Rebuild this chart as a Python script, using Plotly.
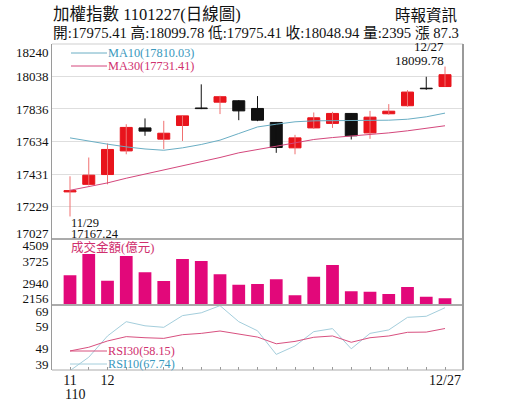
import plotly.graph_objects as go

# ---------------- data ----------------
dates = ['11/29', '11/30', '12/1', '12/2', '12/3', '12/6', '12/7', '12/8', '12/9', '12/10',
         '12/13', '12/14', '12/15', '12/16', '12/17', '12/20', '12/21', '12/22', '12/23',
         '12/24', '12/27']
opens = [17320, 17367, 17428, 17575, 17718, 17648, 17733, 17842, 17878, 17887,
         17839, 17752, 17594, 17718, 17746, 17808, 17687, 17806, 17856, 17965, 17975.41]
highs = [17417, 17534, 17621, 17741, 17777, 17762, 17795, 17989, 17918, 17890,
         17916, 17755, 17675, 17814, 17818, 17810, 17824, 17866, 17953, 18036, 18099.78]
lows = [17167.24, 17360, 17367, 17554, 17669, 17586, 17637, 17835, 17804, 17766,
        17760, 17563, 17554, 17712, 17718, 17646, 17650, 17800, 17850, 17955, 17975.41]
closes = [17328, 17424, 17584, 17721, 17698, 17685, 17793, 17838, 17912, 17824,
          17766, 17596, 17656, 17781, 17808, 17669, 17785, 17822, 17941, 17961.64, 18048.94]
volume = [3215, 3974, 3022, 3903, 3322, 3012, 3796, 3725, 3250, 2880,
          2905, 3072, 2502, 3165, 3582, 2644, 2630, 2548, 2798, 2452, 2395]
ma10 = [17656, 17635, 17617, 17600, 17587, 17579, 17594, 17615, 17642, 17683,
        17724, 17741, 17756, 17762, 17762, 17766, 17762, 17766, 17772, 17787, 17810.03]
ma30 = [17330, 17351, 17376, 17405, 17430, 17455, 17480, 17506, 17534, 17563,
        17582, 17604, 17625, 17646, 17658, 17668, 17675, 17687, 17700, 17715, 17731.41]
rsi10 = [38.7, 44.9, 54.7, 61.3, 59.4, 58.7, 64.1, 65.4, 68.7, 61.3,
         57.1, 46.2, 50.1, 56.7, 58.1, 48.8, 55.9, 57.5, 63.3, 63.8, 67.74]
rsi30 = [47.8, 49.5, 52.4, 54.4, 53.9, 53.6, 55.3, 55.9, 57.0, 55.5,
         54.2, 51.1, 52.2, 54.1, 54.7, 51.8, 53.9, 54.7, 56.4, 56.5, 58.15]

price_ticks = [18240, 18038, 17836, 17634, 17431, 17229, 17027]
vol_ticks = [4509, 3725, 2940, 2156]
rsi_ticks = [69, 59, 49, 39]
x_labels = {0: '11', 2: '12', 20: '12/27'}

title1 = '加權指數 1101227(日線圖)'
title2 = '開:17975.41 高:18099.78 低:17975.41 收:18048.94 量:2395 漲 87.3'
source = '時報資訊'

# ---------------- style ----------------
FONT = 'Liberation Serif, Noto Sans CJK TC, serif'
RED = '#e8141c'
RED_WICK = '#f07070'
BLACK = '#111111'
VOL = '#e2087a'
MA10C = '#6aaec4'
MA30C = '#d4477c'
RSI10C = '#a4cedc'
RSI30C = '#d8507f'
TXT_BLUE = '#3a98bd'
TXT_PINK = '#d0306e'

W, H = 515, 413
L, R, T, B = 52, 463, 44, 370


def px_x(x):
    return (x - L) / (R - L)


def px_y(y):
    return (B - y) / (B - T)


dom_rsi = [0, px_y(305)]
dom_vol = [px_y(305), px_y(239)]
dom_price = [px_y(239), 1]

n = len(dates)
idx = list(range(n))
up = [c >= o for o, c in zip(opens, closes)]

fig = go.Figure()

# wicks
for color, flag in ((RED_WICK, True), (BLACK, False)):
    xs, ys = [], []
    for i in idx:
        if up[i] == flag:
            xs += [i, i, None]
            ys += [lows[i], highs[i], None]
    fig.add_trace(go.Scatter(x=xs, y=ys, mode='lines', line=dict(color=color, width=1),
                             xaxis='x', yaxis='y', showlegend=False, hoverinfo='skip'))

# bodies
body_colors = [RED if u else BLACK for u in up]
fig.add_trace(go.Bar(x=idx, y=[abs(c - o) for o, c in zip(opens, closes)],
                     base=[min(o, c) for o, c in zip(opens, closes)],
                     width=0.64, marker=dict(color=body_colors, line=dict(color=body_colors, width=1)),
                     xaxis='x', yaxis='y', showlegend=False))

fig.add_trace(go.Scatter(x=idx, y=ma10, mode='lines', line=dict(color=MA10C, width=1),
                         xaxis='x', yaxis='y', showlegend=False))
fig.add_trace(go.Scatter(x=idx, y=ma30, mode='lines', line=dict(color=MA30C, width=1),
                         xaxis='x', yaxis='y', showlegend=False))

# volume
fig.add_trace(go.Bar(x=idx, y=volume, width=0.68, marker=dict(color=VOL, line=dict(width=0)),
                     xaxis='x', yaxis='y2', showlegend=False))

# RSI
fig.add_trace(go.Scatter(x=idx, y=rsi10, mode='lines', line=dict(color=RSI10C, width=1),
                         xaxis='x', yaxis='y3', showlegend=False))
fig.add_trace(go.Scatter(x=idx, y=rsi30, mode='lines', line=dict(color=RSI30C, width=1),
                         xaxis='x', yaxis='y3', showlegend=False))

# label positions nudged inward at the panel edges like the source chart
p_lo, p_hi = price_ticks[-1], price_ticks[0]
p_per_px = (p_hi - p_lo) / (239 - T)
price_label_vals = list(price_ticks)
price_label_vals[0] = p_hi - 8 * p_per_px
price_label_vals[-1] = p_lo + 6 * p_per_px

v_lo, v_hi = vol_ticks[-1], vol_ticks[0]
v_per_px = (v_hi - v_lo) / (305 - 239)
vol_label_vals = list(vol_ticks)
vol_label_vals[0] = v_hi - 6 * v_per_px
vol_label_vals[-1] = v_lo + 7 * v_per_px

r_lo, r_hi = rsi_ticks[-1], rsi_ticks[0]
r_per_px = (r_hi - r_lo) / (B - 305)
rsi_label_vals = list(rsi_ticks)
rsi_label_vals[0] = r_hi - 6.5 * r_per_px
rsi_label_vals[-1] = r_lo + 5.5 * r_per_px

axis_font = dict(family=FONT, size=13, color='#111')

yax_common = dict(showline=True, linecolor='#9a9a9a', linewidth=1, ticks='', zeroline=False,
                  tickfont=axis_font, fixedrange=True)

fig.update_layout(
    width=W, height=H,
    margin=dict(l=L, r=W - R, t=T, b=H - B, pad=0),
    paper_bgcolor='white', plot_bgcolor='white',
    showlegend=False,
    barmode='overlay',
    xaxis=dict(domain=[0, 1], anchor='y3', range=[-0.96, n - 0.04],
               tickmode='array', tickvals=idx,
               ticktext=[x_labels.get(i, '') for i in idx],
               ticks='inside', ticklen=3, tickcolor='#9a9a9a',
               showgrid=False, zeroline=False, showline=False, fixedrange=True,
               tickfont=dict(family=FONT, size=14, color='#111')),
    yaxis=dict(domain=dom_price, range=[p_lo, p_hi], tickmode='array',
               tickvals=price_label_vals, ticktext=[str(v) for v in price_ticks],
               showgrid=False,
               minor=dict(tickmode='array', tickvals=price_ticks[1:-1], showgrid=True,
                          gridcolor='#dedede', gridwidth=1, ticks=''),
               **yax_common),
    yaxis2=dict(domain=dom_vol, range=[v_lo, v_hi], tickmode='array',
                tickvals=vol_label_vals, ticktext=[str(v) for v in vol_ticks],
                showgrid=False, anchor='x', **yax_common),
    yaxis3=dict(domain=dom_rsi, range=[r_lo, r_hi], tickmode='array',
                tickvals=rsi_label_vals, ticktext=[str(v) for v in rsi_ticks],
                showgrid=False, anchor='x', **yax_common),
)

shapes = []
shapes.append(dict(type='line', xref='paper', yref='paper', x0=0, x1=1, y0=1, y1=1,
                   line=dict(color='#cfcfcf', width=1)))
for yy in (px_y(239), px_y(305)):
    shapes.append(dict(type='line', xref='paper', yref='paper', x0=0, x1=1, y0=yy, y1=yy,
                       line=dict(color='#ababab', width=2)))
shapes.append(dict(type='line', xref='paper', yref='paper', x0=0, x1=1, y0=0, y1=0,
                   line=dict(color='#ababab', width=1)))
shapes.append(dict(type='line', xref='paper', yref='paper', x0=1, x1=1, y0=0, y1=1,
                   line=dict(color='#9a9a9a', width=2)))
for (x0, x1, yy, col) in ((71, 107, 53, MA10C), (71, 107, 66, MA30C),
                          (70, 107, 351, RSI30C), (70, 107, 364, RSI10C)):
    shapes.append(dict(type='line', xref='paper', yref='paper', x0=px_x(x0), x1=px_x(x1),
                       y0=px_y(yy), y1=px_y(yy), line=dict(color=col, width=1)))
fig.update_layout(shapes=shapes)

ann = []


def add_text(text, x, y, size, color='#111', xanchor='left'):
    ann.append(dict(text=text, xref='paper', yref='paper', x=px_x(x), y=px_y(y),
                    xanchor=xanchor, yanchor='middle', showarrow=False,
                    font=dict(family=FONT, size=size, color=color)))


add_text(title1, 51, 14, 16.5)
add_text(source, 459, 15, 15.5, xanchor='right')
add_text(title2, 51, 33, 14.7)
add_text(f'MA10({ma10[-1]:.2f})', 106, 53, 12.3, TXT_BLUE)
add_text(f'MA30({ma30[-1]:.2f})', 106, 66, 12.3, TXT_PINK)
add_text('成交金額(億元)', 69, 247, 12.5, TXT_PINK)
add_text(f'RSI30({rsi30[-1]:.2f})', 106, 351, 12.2, TXT_PINK)
add_text(f'RSI10({rsi10[-1]:.2f})', 106, 364, 12.2, TXT_BLUE)
add_text('110', 63, 394, 14)

ann.append(dict(text=dates[0], x=0, y=lows[0], xref='x', yref='y', xanchor='left',
                yanchor='middle', yshift=-7, xshift=-1, showarrow=False,
                font=dict(family=FONT, size=12.5, color='#111')))
ann.append(dict(text=f'{lows[0]:.2f}', x=0, y=lows[0], xref='x', yref='y', xanchor='left',
                yanchor='middle', yshift=-18, xshift=-1, showarrow=False,
                font=dict(family=FONT, size=12.5, color='#111')))
ann.append(dict(text=dates[-1], x=n - 1, y=highs[-1], xref='x', yref='y', xanchor='right',
                yanchor='middle', yshift=20, xshift=1, showarrow=False,
                font=dict(family=FONT, size=13, color='#111')))
ann.append(dict(text=f'{highs[-1]:.2f}', x=n - 1, y=highs[-1], xref='x', yref='y',
                xanchor='right', yanchor='middle', yshift=6, xshift=1, showarrow=False,
                font=dict(family=FONT, size=13, color='#111')))
fig.update_layout(annotations=ann)

fig.write_html('out.html', config={'displayModeBar': False, 'staticPlot': True},
               post_script="document.body.style.margin='0px';")
